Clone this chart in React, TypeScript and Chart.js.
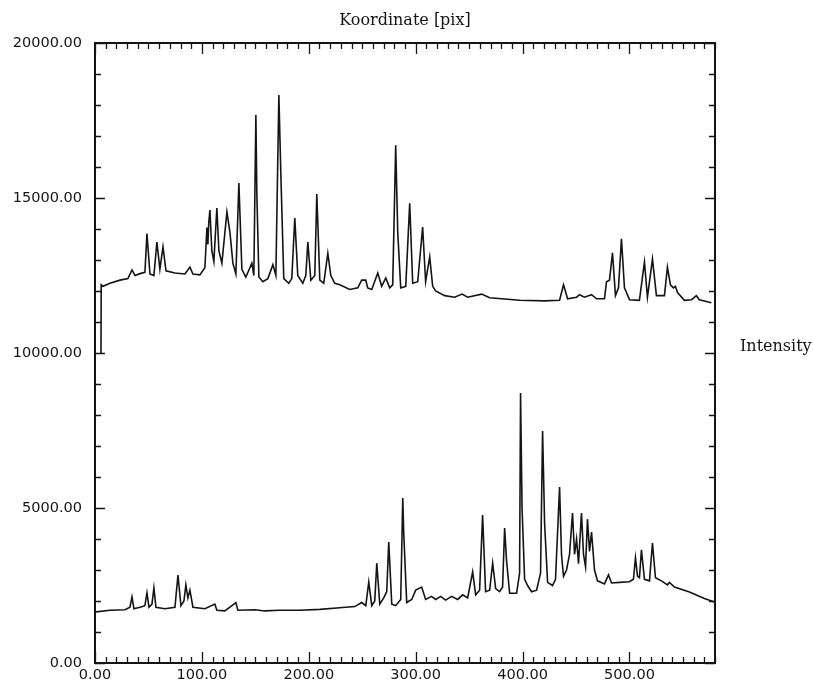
import { useEffect, useRef } from "react";
import { Chart, registerables } from "chart.js";

Chart.register(...registerables);

// Tick label positions
const xTickValues = [0, 100, 200, 300, 400, 500];
const yTickValues = [0, 5000, 10000, 15000, 20000];

// Upper profile (Koordinate, Intensity)
const upperX = [
  5.6, 5.8, 7.5, 14.0, 23.4, 30.8, 34.6, 37.4, 42.1, 46.7, 48.6, 51.4, 55.1, 57.9, 60.7, 63.6, 66.4,
  74.8, 84.1, 88.8, 91.6, 98.1, 102.8, 104.7, 105.6, 106.4, 107.5, 109.3, 111.2, 114.0, 115.9, 118.7, 123.4,
  126.2, 129.0, 131.8, 134.6, 137.4, 141.1, 144.9, 146.7, 148.6, 150.5, 151.4, 153.3, 157.0, 161.7,
  166.4, 169.2, 172.0, 173.8, 176.6, 181.3, 184.1, 186.9, 189.7, 194.4, 197.2, 199.1, 201.9, 205.6,
  207.5, 210.3, 214.0, 217.8, 220.6, 224.3, 229.0, 238.3, 245.8, 249.5, 253.3, 255.1, 258.9, 264.5,
  268.2, 272.0, 275.7, 278.5, 281.3, 283.2, 286.0, 290.7, 294.4, 297.2, 301.9, 306.5, 309.3, 313.1,
  315.9, 318.7, 327.1, 336.4, 343.4, 348.6, 361.7, 369.2, 397.2, 420.6, 434.6, 438.3, 442.1, 450.5,
  453.3, 457.9, 464.5, 469.2, 476.6, 478.5, 481.3, 484.1, 486.9, 489.7, 492.5, 495.3, 500.0, 509.3,
  514.0, 516.8, 521.5, 525.2, 532.7, 535.5, 538.3, 541.1, 543.0, 544.9, 551.4, 558.0, 562.6, 565.4,
  576.6,
];
const upperY = [
  10000, 12200, 12150, 12250, 12350, 12400, 12680, 12500, 12560, 12600, 13850, 12550, 12500, 13580, 12700, 13420, 12650,
  12580, 12550, 12770, 12550, 12520, 12750, 14050, 13500, 14200, 14610, 13300, 12950, 14680, 13300, 12900, 14550,
  13900, 12900, 12550, 15480, 12700, 12450, 12750, 12900, 12500, 17680, 15150, 12450, 12300, 12400,
  12850, 12500, 18320, 15840, 12400, 12250, 12400, 14350, 12500, 12250, 12500, 13580, 12350, 12500,
  15130, 12350, 12250, 13220, 12500, 12250, 12200, 12050, 12100, 12350, 12350, 12100, 12050, 12580,
  12150, 12420, 12100, 12200, 16700, 13900, 12100, 12150, 14830, 12250, 12300, 14060, 12300, 13100,
  12150, 12000, 11850, 11800, 11900, 11800, 11900, 11780, 11700, 11680, 11700, 12200, 11750, 11800,
  11880, 11800, 11880, 11750, 11750, 12300, 12350, 13230, 11850, 12100, 13680, 12100, 11720, 11700,
  12940, 11800, 13030, 11850, 11850, 12770, 12200, 12100, 12150, 11950, 11700, 11720, 11850, 11720,
  11620,
];

// Lower profile (Koordinate, Intensity)
const lowerX = [
  1.0, 14.0, 28.0, 32.7, 34.6, 36.4, 42.1, 46.7, 48.6, 50.5, 53.3, 55.1, 57.0, 65.4, 74.8, 77.6, 80.4,
  83.2, 85.0, 86.9, 88.8, 91.6, 102.8, 112.1, 114.0, 121.5, 131.8, 133.6, 149.5, 158.9, 172.9, 191.6,
  210.3, 229.0, 243.0, 249.5, 253.3, 256.1, 258.9, 261.7, 263.6, 266.4, 270.1, 272.9, 274.8, 277.6,
  281.3, 286.0, 287.9, 288.8, 291.6, 296.3, 300.0, 305.6, 309.3, 314.8, 318.7, 323.4, 328.0, 333.6,
  339.3, 343.9, 348.6, 353.3, 356.1, 359.8, 362.6, 365.4, 369.2, 372.0, 374.8, 378.5, 381.3, 383.2,
  385.0, 387.9, 394.4, 397.2, 398.1, 399.5, 401.9, 404.7, 408.4, 413.1, 416.8, 418.7, 420.6, 423.4,
  428.0, 430.8, 434.6, 436.4, 438.3, 441.1, 443.9, 446.7, 448.6, 450.5, 452.3, 455.1, 457.0, 458.9,
  460.7, 462.6, 464.5, 467.3, 470.1, 476.6, 480.4, 483.2, 490.7, 500.0, 503.7, 505.6, 507.5, 509.3,
  511.2, 514.0, 518.7, 521.5, 524.3, 529.9, 535.5, 537.4, 542.1, 556.1, 570.1, 579.4,
];
const lowerY = [
  1650, 1700, 1720, 1800, 2130, 1750, 1800, 1850, 2260, 1800, 1900, 2420, 1800, 1750, 1800, 2840, 1850,
  2000, 2520, 2100, 2350, 1800, 1750, 1900, 1700, 1680, 1950, 1700, 1720, 1680, 1700, 1700,
  1730, 1780, 1820, 1950, 1850, 2610, 1850, 2000, 3220, 1900, 2100, 2300, 3900, 1900,
  1850, 2050, 5320, 4200, 1950, 2050, 2350, 2450, 2050, 2150, 2050, 2150, 2030, 2150,
  2050, 2200, 2100, 2940, 2200, 2350, 4770, 2300, 2350, 3220, 2400, 2300, 2450, 4350,
  3300, 2250, 2250, 2900, 8710, 5000, 2700, 2500, 2300, 2350, 2900, 7480, 4500, 2600,
  2500, 2700, 5680, 3500, 2800, 3000, 3500, 4840, 3500, 4000, 3200, 4840, 3500, 3100,
  4640, 3600, 4220, 3000, 2650, 2550, 2840, 2580, 2600, 2620, 2700, 3390, 2800, 2750,
  3650, 2700, 2650, 3870, 2750, 2650, 2520, 2600, 2450, 2290, 2080, 1970,
];

const X_MAX = 580;
const Y_MAX = 20000;
const INK = "#141414";

const toPoints = (xs: number[], ys: number[]) => xs.map((x, i) => ({ x, y: ys[i] }));

// Frame, inward minor/major ticks on all four sides, and the side label
const framePlugin = {
  id: "frameTicks",
  afterDraw(chart: any) {
    const { ctx, chartArea, scales } = chart;
    const { left, right, top, bottom } = chartArea;
    const xs = scales.x;
    const ys = scales.y;
    ctx.save();
    ctx.strokeStyle = INK;
    ctx.lineWidth = 1.3;
    ctx.beginPath();
    for (let v = 0; v <= X_MAX; v += 10) {
      const px = Math.round(xs.getPixelForValue(v)) + 0.5;
      const len = v % 100 === 0 ? 11 : 6;
      ctx.moveTo(px, bottom);
      ctx.lineTo(px, bottom - len);
      ctx.moveTo(px, top);
      ctx.lineTo(px, top + len);
    }
    for (let v = 0; v <= Y_MAX; v += 1000) {
      const py = Math.round(ys.getPixelForValue(v)) + 0.5;
      const len = v % 5000 === 0 ? 10 : 6;
      ctx.moveTo(left, py);
      ctx.lineTo(left + len, py);
      ctx.moveTo(right, py);
      ctx.lineTo(right - len, py);
    }
    ctx.stroke();
    ctx.lineWidth = 2;
    ctx.strokeRect(left, top, right - left, bottom - top);
    ctx.fillStyle = INK;
    ctx.font = "16px 'DejaVu Serif'";
    ctx.textAlign = "left";
    ctx.textBaseline = "middle";
    ctx.fillText("Intensity", 740, 347);
    ctx.restore();
  },
};

export default function App() {
  const canvasRef = useRef<HTMLCanvasElement | null>(null);

  useEffect(() => {
    const canvas = canvasRef.current;
    if (!canvas) return;
    const chart = new Chart(canvas, {
      type: "line",
      data: {
        datasets: [
          {
            data: toPoints(upperX, upperY),
            borderColor: INK,
            borderWidth: 1.6,
            pointRadius: 0,
            tension: 0,
            fill: false,
          },
          {
            data: toPoints(lowerX, lowerY),
            borderColor: INK,
            borderWidth: 1.6,
            pointRadius: 0,
            tension: 0,
            fill: false,
          },
        ],
      },
      options: {
        animation: false,
        responsive: false,
        maintainAspectRatio: false,
        devicePixelRatio: 1,
        layout: { padding: { left: 0, right: 98, top: 0, bottom: 0 } },
        plugins: {
          legend: { display: false },
          tooltip: { enabled: false },
          title: {
            display: true,
            text: "Koordinate [pix]",
            fullSize: false,
            color: INK,
            font: { family: "'DejaVu Serif'", size: 16, weight: "normal" },
            padding: { top: 11, bottom: 12.8 },
          },
        },
        scales: {
          x: {
            type: "linear",
            min: 0,
            max: X_MAX,
            grid: { display: false, drawTicks: false },
            border: { display: false },
            afterBuildTicks: (scale: any) => {
              scale.ticks = xTickValues.map((value) => ({ value }));
            },
            afterFit: (scale: any) => {
              scale.height = 28;
            },
            ticks: {
              color: INK,
              padding: 4,
              maxRotation: 0,
              autoSkip: false,
              font: { family: "'DejaVu Sans'", size: 14.5 },
              callback: (v: any) => Number(v).toFixed(2),
            },
          },
          y: {
            type: "linear",
            min: 0,
            max: Y_MAX,
            grid: { display: false, drawTicks: false },
            border: { display: false },
            afterBuildTicks: (scale: any) => {
              scale.ticks = yTickValues.map((value) => ({ value }));
            },
            afterFit: (scale: any) => {
              scale.width = 95;
            },
            ticks: {
              color: INK,
              padding: 13,
              autoSkip: false,
              font: { family: "'DejaVu Sans'", size: 14.5 },
              callback: (v: any) => Number(v).toFixed(2),
            },
          },
        },
      },
      plugins: [framePlugin],
    });
    return () => chart.destroy();
  }, []);

  return (
    <div style={{ position: "fixed", left: 0, top: 0, width: 813, height: 691, background: "#fff" }}>
      <canvas ref={canvasRef} width={813} height={691} style={{ display: "block" }} />
    </div>
  );
}
